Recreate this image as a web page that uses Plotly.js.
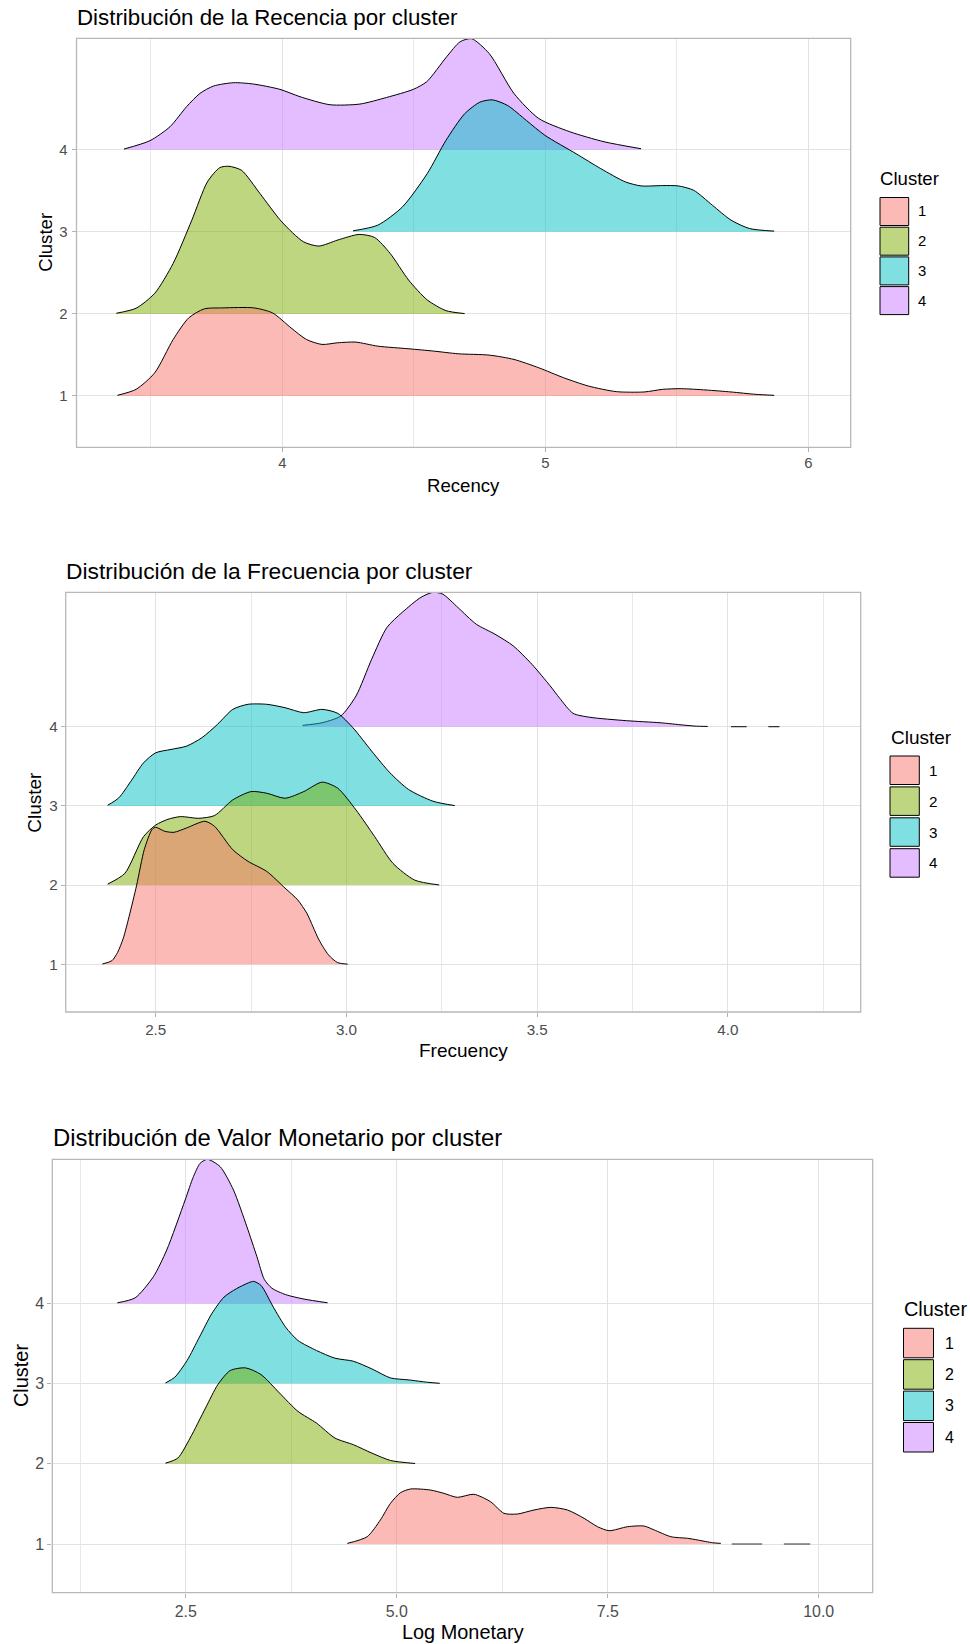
<!DOCTYPE html>
<html><head><meta charset="utf-8">
<script src="https://cdn.plot.ly/plotly-3.0.1.min.js"></script>
<style>html,body{margin:0;padding:0;background:#fff}#chart{width:970px;height:1644px}</style>
</head><body><div id="chart"></div>
<script>
// ---------- data ----------
const clusters = [1, 2, 3, 4];
const clusterLabels = ['1', '2', '3', '4'];
const clusterColors = ['#F8766D', '#7CAE00', '#00BFC4', '#C77CFF'];

// Recency (ridge heights above each cluster baseline)
const recX1 = [3.373,3.444,3.515,3.585,3.644,3.703,3.774,3.892,3.963,4.033,4.092,4.151,4.21,4.28,4.363,4.481,4.575,4.669,4.787,4.881,4.975,5.069,5.164,5.27,5.376,5.446,5.517,5.611,5.706,5.8,5.87];
const recH1 = [0.008,0.081,0.283,0.688,0.951,1.061,1.073,1.073,1.012,0.83,0.688,0.628,0.648,0.656,0.607,0.575,0.547,0.514,0.498,0.445,0.344,0.223,0.121,0.053,0.049,0.081,0.089,0.073,0.049,0.02,0.008];
const recX2 = [3.369,3.444,3.515,3.585,3.656,3.715,3.762,3.797,3.845,3.915,3.998,4.08,4.139,4.21,4.292,4.351,4.41,4.48,4.551,4.622,4.693];
const recH2 = [0.008,0.069,0.251,0.615,1.142,1.607,1.781,1.798,1.749,1.466,1.121,0.879,0.826,0.899,0.968,0.931,0.737,0.413,0.17,0.04,0.004];
const recX3 = [4.269,4.363,4.457,4.551,4.622,4.693,4.751,4.799,4.857,4.928,4.999,5.117,5.211,5.305,5.364,5.446,5.505,5.564,5.635,5.706,5.776,5.87];
const recH3 = [0.012,0.081,0.304,0.709,1.113,1.437,1.579,1.607,1.538,1.356,1.174,0.951,0.769,0.607,0.559,0.563,0.559,0.506,0.324,0.142,0.04,0.008];
const recX4 = [3.398,3.497,3.573,3.636,3.687,3.738,3.814,3.89,3.991,4.067,4.181,4.295,4.397,4.498,4.549,4.625,4.676,4.72,4.787,4.881,4.975,5.093,5.223,5.364];
const recH4 = [0.008,0.11,0.28,0.524,0.686,0.775,0.816,0.8,0.735,0.646,0.548,0.556,0.637,0.735,0.828,1.133,1.315,1.352,1.17,0.684,0.38,0.219,0.097,0.012];

// Frecuency
const freqX1 = [2.36,2.385,2.4,2.415,2.43,2.45,2.47,2.49,2.5,2.524,2.548,2.581,2.629,2.654,2.702,2.742,2.791,2.839,2.872,2.896,2.912,2.928,2.953,2.977,3.003];
const freqH1 = [0.004,0.045,0.15,0.33,0.6,1.0,1.45,1.7,1.73,1.679,1.667,1.722,1.806,1.743,1.447,1.3,1.173,0.962,0.814,0.646,0.477,0.308,0.118,0.021,0.002];
const freqX2 = [2.374,2.419,2.468,2.5,2.532,2.565,2.613,2.654,2.702,2.75,2.791,2.839,2.888,2.936,2.977,3.025,3.074,3.122,3.179,3.243];
const freqH2 = [0.013,0.148,0.612,0.759,0.831,0.865,0.844,0.878,1.076,1.181,1.16,1.097,1.181,1.3,1.224,0.949,0.612,0.274,0.063,0.002];
const freqX3 = [2.374,2.403,2.435,2.468,2.5,2.54,2.581,2.621,2.662,2.702,2.742,2.791,2.839,2.888,2.936,2.977,3.017,3.066,3.114,3.163,3.227,3.284];
const freqH3 = [0.008,0.101,0.312,0.544,0.671,0.713,0.755,0.861,1.03,1.219,1.283,1.283,1.24,1.177,1.219,1.169,0.987,0.692,0.418,0.207,0.059,0.004];
const freqX4 = [2.885,2.936,2.985,3.025,3.066,3.106,3.146,3.195,3.227,3.252,3.292,3.34,3.389,3.437,3.486,3.534,3.559,3.594,3.638,3.734,3.822,3.883,3.913,3.947];
const freqH4 = [0.017,0.05,0.135,0.388,0.852,1.253,1.443,1.633,1.697,1.675,1.506,1.295,1.169,1.021,0.789,0.515,0.359,0.169,0.119,0.076,0.05,0.021,0.008,0.003];
const freqTailX4 = [4.008,4.049,null,4.106,4.135];

// Log Monetary
const monX1 = [4.414,4.649,4.806,4.925,5.044,5.163,5.4,5.558,5.717,5.914,6.112,6.27,6.429,6.626,6.825,7.023,7.22,7.379,7.517,7.735,7.932,8.051,8.249,8.447,8.566,8.744,8.84];
const monH1 = [0.008,0.091,0.3,0.507,0.64,0.686,0.673,0.632,0.582,0.62,0.527,0.383,0.374,0.424,0.457,0.424,0.32,0.216,0.166,0.216,0.224,0.175,0.091,0.071,0.05,0.016,0.008];
const monTailX1 = [8.97,9.33,null,9.587,9.9];
const monX2 = [2.259,2.405,2.551,2.734,2.88,3.026,3.209,3.391,3.61,3.829,4.049,4.268,4.487,4.706,4.925,5.217];
const monH2 = [0.008,0.071,0.321,0.696,0.988,1.163,1.196,1.113,0.883,0.654,0.508,0.321,0.238,0.133,0.042,0.004];
const monX3 = [2.259,2.369,2.515,2.661,2.807,2.953,3.099,3.245,3.303,3.391,3.537,3.683,3.829,4.049,4.268,4.487,4.706,4.925,5.144,5.363,5.509];
const monH3 = [0.008,0.079,0.288,0.579,0.871,1.079,1.183,1.258,1.275,1.225,0.954,0.704,0.538,0.413,0.317,0.279,0.183,0.071,0.046,0.017,0.004];
const monX4 = [1.69,1.9,2.116,2.274,2.492,2.59,2.67,2.756,2.907,3.065,3.224,3.343,3.43,3.52,3.683,3.902,4.18];
const monH4 = [0.008,0.07,0.333,0.666,1.289,1.58,1.747,1.797,1.705,1.414,0.956,0.582,0.3,0.19,0.11,0.054,0.008];

const chartTitles = ['Distribución de la Recencia por cluster', 'Distribución de la Frecuencia por cluster', 'Distribución de Valor Monetario por cluster'];
const xTitles = ['Recency', 'Frecuency', 'Log Monetary'];
const yTitle = 'Cluster';
const legendTitle = 'Cluster';

// ---------- layout helpers ----------
const W = 970, H = 1644;
const px = v => v / W, py = v => 1 - v / H;
const FONT = '"Liberation Sans", Arial, Helvetica, sans-serif';
function rgba(hex, a) {
  const n = parseInt(hex.slice(1), 16);
  return `rgba(${(n >> 16) & 255},${(n >> 8) & 255},${n & 255},${a})`;
}

const panels = [
  { ax: '', ridges: [[recX1, recH1], [recX2, recH2], [recX3, recH3], [recX4, recH4]], tails: {},
    box: { l: 76.5, r: 850.7, t: 38.3, b: 447.3 }, xrange: [3.2175, 6.161], yrange: [0.375, 5.357],
    dtick: 1, minor0: 0.5, fmt: 'd', s: 1.0, titleY: 17.5, xtY: 485.5, ytX: 46,
    leg: { tX: 878, tY: 179, bx0: 880, bx1: 908.7, top: 197.5, pitch: 29.7, bh: 28, lX: 916 }, tsY: -2, tsX: 1 },
  { ax: '2', ridges: [[freqX1, freqH1], [freqX2, freqH2], [freqX3, freqH3], [freqX4, freqH4]], tails: { 3: freqTailX4 },
    box: { l: 65.7, r: 860.7, t: 592.3, b: 1012 }, xrange: [2.264, 4.348], yrange: [0.398, 5.697],
    dtick: 0.5, minor0: 0.25, fmt: '.1f', s: 1.022, titleY: 571, xtY: 1050, ytX: 34.6,
    leg: { tX: 888.5, tY: 737.3, bx0: 890, bx1: 919.3, top: 756, pitch: 30.9, bh: 28.5, lX: 927 }, tsY: -1.5, tsX: 0 },
  { ax: '3', ridges: [[monX1, monH1], [monX2, monH2], [monX3, monH3], [monX4, monH4]], tails: { 0: monTailX1 },
    box: { l: 52.3, r: 872.7, t: 1159.3, b: 1592.7 }, xrange: [0.918, 10.64], yrange: [0.393, 5.797],
    dtick: 2.5, minor0: 1.25, fmt: '.1f', s: 1.07, titleY: 1137, xtY: 1631.5, ytX: 21,
    leg: { tX: 902, tY: 1309, bx0: 903.5, bx1: 933.5, top: 1328.3, pitch: 31.4, bh: 29.5, lX: 943 }, tsY: 0, tsX: 0 }
];

const traces = [];
const layout = {
  width: W, height: H, margin: { l: 0, r: 0, t: 0, b: 0 },
  paper_bgcolor: '#fff', plot_bgcolor: '#fff', showlegend: false, hovermode: false, dragmode: false,
  font: { family: FONT, color: '#000' },
  annotations: [], shapes: []
};

panels.forEach((p, pi) => {
  const xa = 'x' + p.ax, ya = 'y' + p.ax;
  // ridges drawn from the top one down, so lower ridges lie over upper ones
  for (let k = clusters.length - 1; k >= 0; k--) {
    const c = clusters[k];
    const [xs, hs] = p.ridges[k];
    traces.push({ x: xs, y: xs.map(() => c), xaxis: xa, yaxis: ya, type: 'scatter', mode: 'lines',
      line: { width: 0, color: 'rgba(0,0,0,0)' }, hoverinfo: 'skip', showlegend: false });
    traces.push({ x: xs, y: xs.map((v, i) => c + hs[i]), xaxis: xa, yaxis: ya, type: 'scatter', mode: 'lines',
      fill: 'tonexty', fillcolor: rgba(clusterColors[k], 0.5),
      line: { color: '#000', width: 1, shape: 'spline', smoothing: 0.7 },
      name: clusterLabels[k], showlegend: false });
    if (p.tails[k]) {
      const tx = p.tails[k];
      traces.push({ x: tx, y: tx.map(v => v === null ? null : c), xaxis: xa, yaxis: ya, type: 'scatter', mode: 'lines',
        line: { color: '#333', width: 1.2 }, connectgaps: false, hoverinfo: 'skip', showlegend: false });
    }
  }
  const s = p.s;
  const tickFont = { family: FONT, size: 14.9 * s, color: '#4D4D4D' };
  layout['xaxis' + p.ax] = {
    domain: [px(p.box.l), px(p.box.r)], range: p.xrange, anchor: ya,
    tickmode: 'linear', tick0: 0, dtick: p.dtick, tickformat: p.fmt,
    ticks: 'outside', ticklen: 4, tickwidth: 1, tickcolor: '#B3B3B3', tickfont: tickFont, ticklabelstandoff: p.tsY,
    showgrid: true, gridcolor: '#E2E2E2', gridwidth: 1,
    minor: { tick0: p.minor0, dtick: p.dtick, showgrid: true, gridcolor: '#E9E9E9', gridwidth: 1, ticks: '' },
    showline: false, zeroline: false, fixedrange: true
  };
  layout['yaxis' + p.ax] = {
    domain: [py(p.box.b), py(p.box.t)], range: p.yrange, anchor: xa,
    tickmode: 'array', tickvals: clusters, ticktext: clusterLabels,
    ticks: 'outside', ticklen: 4, tickwidth: 1, tickcolor: '#B3B3B3', tickfont: tickFont, ticklabelstandoff: p.tsX,
    showgrid: true, gridcolor: '#E2E2E2', gridwidth: 1,
    showline: false, zeroline: false, fixedrange: true
  };
  // panel border
  layout.shapes.push({ type: 'rect', xref: xa + ' domain', yref: ya + ' domain', x0: 0, x1: 1, y0: 0, y1: 1,
    line: { color: '#B8B8B8', width: 1.3 }, fillcolor: 'rgba(0,0,0,0)', layer: 'above' });
  // chart title
  layout.annotations.push({ text: chartTitles[pi], xref: 'paper', yref: 'paper', x: px(p.box.l - 1.5), y: py(p.titleY),
    xanchor: 'left', yanchor: 'middle', showarrow: false, font: { family: FONT, size: 22.3 * s, color: '#000' } });
  // x title
  layout.annotations.push({ text: xTitles[pi], xref: 'paper', yref: 'paper', x: px((p.box.l + p.box.r) / 2), y: py(p.xtY),
    xanchor: 'center', yanchor: 'middle', showarrow: false, font: { family: FONT, size: 18.6 * s, color: '#000' } });
  // y title
  layout.annotations.push({ text: yTitle, xref: 'paper', yref: 'paper', x: px(p.ytX), y: py((p.box.t + p.box.b) / 2),
    xanchor: 'center', yanchor: 'middle', textangle: -90, showarrow: false, font: { family: FONT, size: 18.6 * s, color: '#000' } });
  // legend
  const L = p.leg;
  layout.annotations.push({ text: legendTitle, xref: 'paper', yref: 'paper', x: px(L.tX), y: py(L.tY),
    xanchor: 'left', yanchor: 'middle', showarrow: false, font: { family: FONT, size: 18.6 * s, color: '#000' } });
  clusters.forEach((c, k) => {
    const y0 = L.top + k * L.pitch, y1 = y0 + L.bh;
    layout.shapes.push({ type: 'rect', xref: 'paper', yref: 'paper', x0: px(L.bx0), x1: px(L.bx1), y0: py(y1), y1: py(y0),
      fillcolor: rgba(clusterColors[k], 0.5), line: { color: '#000', width: 1 } });
    layout.annotations.push({ text: clusterLabels[k], xref: 'paper', yref: 'paper', x: px(L.lX), y: py((y0 + y1) / 2),
      xanchor: 'left', yanchor: 'middle', showarrow: false, font: { family: FONT, size: 14.9 * s, color: '#000' } });
  });
});

Plotly.newPlot('chart', traces, layout, { displayModeBar: false, responsive: false });
</script>
</body></html>
